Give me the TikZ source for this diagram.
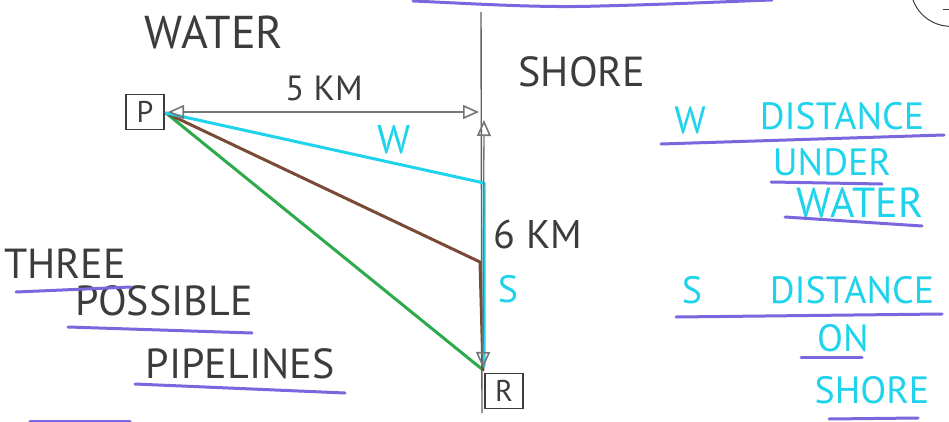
\documentclass[tikz,border=0pt]{standalone}
\usepackage{fontspec}
\setmainfont{PT Sans}
\usetikzlibrary{arrows.meta}
\definecolor{ink}{HTML}{3C3C3C}
\definecolor{cyanpen}{HTML}{1FD3EC}
\definecolor{purplepen}{HTML}{7A66DD}
\definecolor{brownpen}{HTML}{7A4A36}
\definecolor{greenpen}{HTML}{2DAA4C}
\tikzset{
  box/.style={draw=ink, line width=1.6pt, minimum width=38pt, minimum height=35pt, inner sep=0pt, text=ink, font=\fontsize{30}{32}\selectfont},
  inktext/.style={text=ink, font=\fontsize{42}{44}\selectfont, inner sep=0pt},
  smalltext/.style={text=ink, font=\fontsize{35}{37}\selectfont, inner sep=0pt},
  cyantext/.style={text=cyanpen, font=\fontsize{38}{40}\selectfont, inner sep=0pt},
  axis/.style={draw=ink!80, line width=1.4pt},
  dim/.style={draw=ink!70, line width=1.3pt, {Triangle[open,length=16pt,width=14pt,line width=1.6pt]}-{Triangle[open,length=16pt,width=14pt,line width=1.6pt]}},
  underl/.style={draw=purplepen, line width=3pt, line cap=round},
  pipe/.style={line width=3pt, line join=round, line cap=round},
}
\begin{document}
\begin{tikzpicture}[x=1pt, y=-1pt]
\useasboundingbox (0,0) rectangle (949,422);
% coordinates
\coordinate (shoreTop) at (481,12);
\coordinate (shoreBot) at (482,413);
\coordinate (pP) at (166,113);
\coordinate (pR) at (483,370);
\coordinate (dimL) at (168,112);
\coordinate (dimR) at (479,112);
\coordinate (dimTop) at (484,120);
\coordinate (dimBot) at (483,368);
\coordinate (wEnd) at (484,183);
\coordinate (sEnd) at (484,366);
\coordinate (bEnd) at (480,262);
% shore line
\draw[axis] (shoreTop) -- (shoreBot);
% boxes
\node[box] (P) at (145,112) {P};
\node[box] (R) at (504,391) {R};
% pipelines
\draw[pipe, greenpen] (pP) -- (pR);
\draw[pipe, brownpen] (pP) -- (bEnd) -- (pR);
\draw[pipe, cyanpen] (pP) -- (wEnd) -- (sEnd);
% dimensions
\draw[dim] (dimL) -- (dimR);
\draw[dim] (dimTop) -- (dimBot);
% labels on figure
\node[inktext, font=\fontsize{46}{48}\selectfont] (water) at (214,32) {WATER};
\node[inktext] (shore) at (582,72) {SHORE};
\node[smalltext] (fivekm) at (324,88) {5 KM};
\node[smalltext, font=\fontsize{40}{42}\selectfont] (sixkm) at (538,234) {6 KM};
\node[cyantext, font=\fontsize{40}{42}\selectfont] (wlab) at (394,140) {W};
\node[cyantext] (slab) at (508,289) {S};
% left text
\node[inktext] (three) at (65,264) {THREE};
\node[inktext] (possible) at (164,301) {POSSIBLE};
\node[inktext] (pipelines) at (240,364) {PIPELINES};
\draw[underl] (16,292) -- (131,287);
\draw[underl] (68,327) -- (252,333);
\draw[underl] (135,384) -- (345,393);
% right legend
\node[cyantext] (wleg) at (690,120) {W};
\node[cyantext] (dist1) at (842,116) {DISTANCE};
\node[cyantext] (under) at (832,162) {UNDER};
\node[cyantext, font=\fontsize{42}{44}\selectfont] (water2) at (860,203) {WATER};
\draw[underl] (661,144) -- (944,135);
\draw[underl] (771,182) -- (882,184);
\draw[underl] (785,217) -- (922,226);
\node[cyantext] (sleg) at (692,290) {S};
\node[cyantext] (dist2) at (852,290) {DISTANCE};
\node[cyantext] (on) at (843,338) {ON};
\node[cyantext] (shore2) at (872,390) {SHORE};
\draw[underl] (676,317) -- (942,314);
\draw[underl] (801,357) -- (862,357);
\draw[underl] (829,419) -- (918,418);
% border scraps
\draw[underl] (413,1) .. controls (480,4) and (540,8) .. (600,6) .. controls (680,4) and (740,1) .. (772,0);
\draw[underl] (30,421) -- (130,421);
\draw[ink, line width=1pt] (913,0) arc[start angle=200, end angle=290, radius=40pt];
\draw[ink, line width=1pt] (943,10) -- (949,10);
\end{tikzpicture}
\end{document}
